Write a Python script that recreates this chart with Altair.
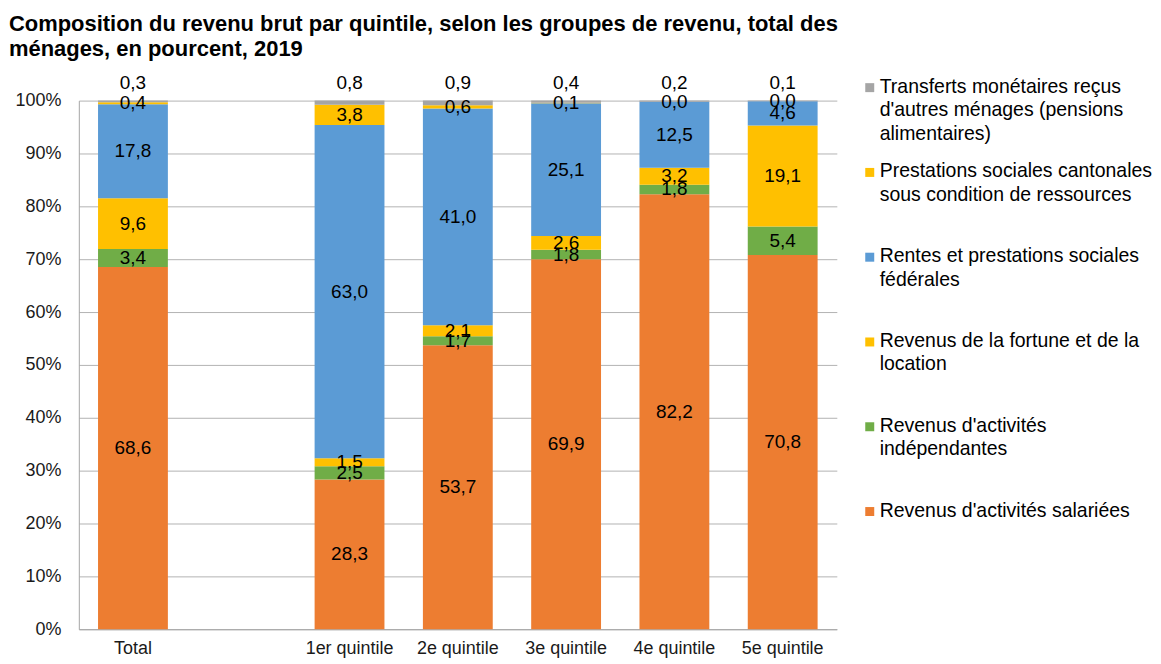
import altair as alt
import pandas as pd

FONT = "Liberation Sans"

categories = ["Total", " ", "1er quintile", "2e quintile", "3e quintile", "4e quintile", "5e quintile"]
groups = ["Total", "1er quintile", "2e quintile", "3e quintile", "4e quintile", "5e quintile"]

series = [
    "Revenus d'activités salariées",
    "Revenus d'activités indépendantes",
    "Revenus de la fortune et de la location",
    "Rentes et prestations sociales fédérales",
    "Prestations sociales cantonales sous condition de ressources",
    "Transferts monétaires reçus d'autres ménages (pensions alimentaires)",
]
legend_labels = [
    "Revenus d'activités salariées",
    "Revenus d'activités\nindépendantes",
    "Revenus de la fortune et de la\nlocation",
    "Rentes et prestations sociales\nfédérales",
    "Prestations sociales cantonales\nsous condition de ressources",
    "Transferts monétaires reçus\nd'autres ménages (pensions\nalimentaires)",
]
colors = ["#ED7D31", "#70AD47", "#FFC000", "#5B9BD5", "#FFC000", "#A5A5A5"]

salariees = [68.6, 28.3, 53.7, 69.9, 82.2, 70.8]
independantes = [3.4, 2.5, 1.7, 1.8, 1.8, 5.4]
fortune = [9.6, 1.5, 2.1, 2.6, 3.2, 19.1]
rentes = [17.8, 63.0, 41.0, 25.1, 12.5, 4.6]
cantonales = [0.4, 3.8, 0.6, 0.1, 0.0, 0.0]
transferts = [0.3, 0.8, 0.9, 0.4, 0.2, 0.1]

values = [salariees, independantes, fortune, rentes, cantonales, transferts]

rows = []
for gi, g in enumerate(groups):
    total = sum(v[gi] for v in values)
    cum = 0.0
    for si, s in enumerate(series):
        v = values[si][gi]
        start = cum / total * 100
        cum += v
        end = cum / total * 100
        if si == len(series) - 1:
            ly = end + 3.3
        else:
            ly = (start + end) / 2
        rows.append({
            "cat": g, "series": s, "value": v, "start": start, "end": end,
            "label_y": ly, "label": f"{v:.1f}".replace(".", ","),
        })
df = pd.DataFrame(rows)

xscale = alt.Scale(domain=categories, paddingInner=0.355, paddingOuter=0.1775)
xenc = alt.X(
    "cat:N",
    scale=xscale,
    axis=alt.Axis(title=None, labelAngle=0, labelFont=FONT, labelFontSize=18,
                  labelColor="#1a1a1a", ticks=False, labelPadding=10,
                  domainColor="#A6A6A6", domainWidth=1),
)
yscale = alt.Scale(domain=[0, 100], nice=False)

bars = alt.Chart(df).mark_bar().encode(
    x=xenc,
    y=alt.Y("start:Q", scale=yscale,
            axis=alt.Axis(title=None, values=list(range(0, 101, 10)),
                          labelExpr="datum.value + '%'", labelFont=FONT,
                          labelFontSize=18, labelColor="#1a1a1a", ticks=False,
                          labelPadding=18, domainColor="#A6A6A6",
                          gridColor="#B3B3B3", gridWidth=1)),
    y2="end:Q",
    color=alt.Color("series:N", scale=alt.Scale(domain=series, range=colors), legend=None),
)

texts = alt.Chart(df).mark_text(font=FONT, fontSize=19, color="#000000").encode(
    x=alt.X("cat:N", scale=xscale),
    y=alt.Y("label_y:Q", scale=yscale),
    text="label:N",
)

main = alt.layer(bars, texts).properties(width=760, height=530)

leg_df = pd.DataFrame({"series": series, "text": legend_labels})
leg_y = alt.Y("series:N", scale=alt.Scale(type="point", domain=series[::-1],
                                           range=[-13, 412], padding=0), axis=None)
squares = alt.Chart(leg_df).mark_square(size=81, opacity=1).encode(
    y=leg_y, x=alt.value(9),
    color=alt.Color("series:N", scale=alt.Scale(domain=series, range=colors), legend=None),
)
leg_text = alt.Chart(leg_df).mark_text(
    font=FONT, fontSize=19.5, align="left", baseline="alphabetic", dy=5,
    lineBreak="\n", lineHeight=23.5, color="#000000",
).encode(y=leg_y, x=alt.value(19), text="text:N")
legend = alt.layer(squares, leg_text).properties(width=275, height=530)

chart = alt.hconcat(main, legend, spacing=24, bounds="flush").properties(
    title=alt.TitleParams(
        text=["Composition du revenu brut par quintile,  selon les groupes de revenu, total des",
              "ménages, en pourcent, 2019"],
        anchor="start", font=FONT, fontSize=22, fontWeight="bold", color="#000000",
        lineHeight=25, offset=13, dx=-6,
    ),
    padding={"left": 0, "top": 4, "right": 0, "bottom": 0},
).configure_view(stroke=None)

chart.save("out.html", embed_options={"renderer": "svg", "actions": False})
